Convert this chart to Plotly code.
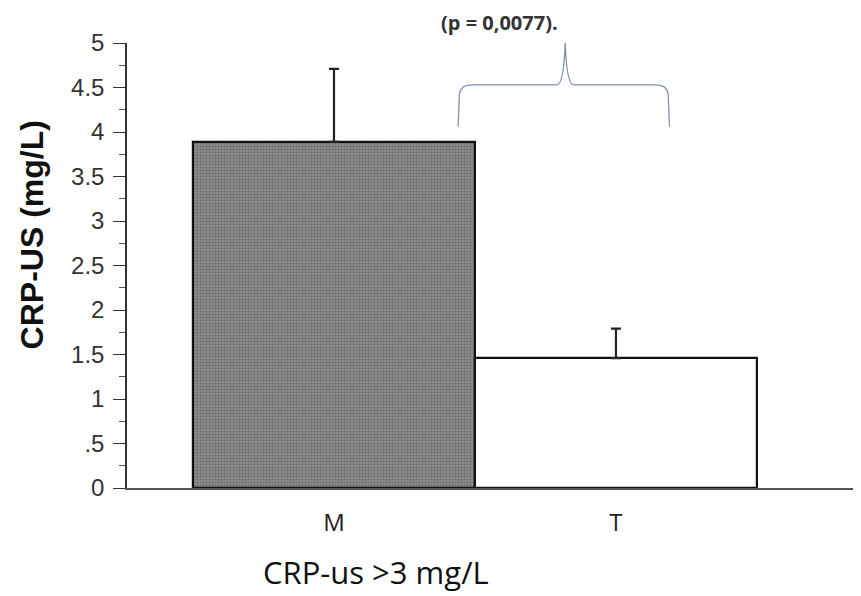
import plotly.graph_objects as go

categories = ["M", "T"]
values = [3.89, 1.46]
errors_up = [0.82, 0.33]
y_tickvals = [0, 0.5, 1, 1.5, 2, 2.5, 3, 3.5, 4, 4.5, 5]
y_ticktext = ["0", ".5", "1", "1.5", "2", "2.5", "3", "3.5", "4", "4.5", "5"]
p_label = "(p = 0,0077)."
x_title = "CRP-us >3 mg/L"
y_title = "CRP-US (mg/L)"

W, H = 861, 596
L, R, T, B = 119, 8, 35, 116

fig = go.Figure()
fig.add_trace(go.Bar(
    x=[0, 1], y=values, width=1.0,
    marker=dict(
        color=["#8c8c8c", "#ffffff"],
        line=dict(color="#111111", width=2.2),
        pattern=dict(shape=[".", ""], fgcolor="#333333", bgcolor="#8f8f8f", size=3, solidity=0.35),
    ),
    error_y=dict(type="data", symmetric=False, array=errors_up, arrayminus=[0, 0],
                 color="#222222", thickness=2.2, width=5),
    showlegend=False,
))

fig.update_layout(
    width=W, height=H,
    margin=dict(l=L, r=R, t=T, b=B),
    plot_bgcolor="white", paper_bgcolor="white",
    bargap=0,
    xaxis=dict(
        range=[-0.734, 1.869], tickvals=[0, 1], ticktext=categories,
        showgrid=False, zeroline=False, showline=True, linecolor="#555555", linewidth=1.5,
        ticks="", ticklabelstandoff=12,
        tickfont=dict(family="Open Sans, Liberation Sans, sans-serif", size=24, color="#222222"),
    ),
    yaxis=dict(
        range=[0, 5], tickvals=y_tickvals, ticktext=y_ticktext,
        showgrid=False, zeroline=False, showline=True, linecolor="#333333", linewidth=1.5,
        ticks="outside", ticklen=12, tickwidth=1.2, tickcolor="#333333", ticklabelstandoff=4,
        minor=dict(dtick=0.25, ticks="outside", ticklen=6, tickwidth=1.2, tickcolor="#555555"),
        tickfont=dict(family="Liberation Sans, Arial, sans-serif", size=24, color="#333333"),
    ),
)

# curly brace over the bars (data coords)
x0, x1, xm = 0.44, 1.19, 0.82
yb, yh, yt = 4.06, 4.53, 5.01
path = (f"M {x0} {yb} L {x0+0.005} {yh-0.1} Q {x0+0.01} {yh} {x0+0.05} {yh} "
        f"L {xm-0.03} {yh} Q {xm-0.005} {yh} {xm} {yt} "
        f"Q {xm+0.005} {yh} {xm+0.03} {yh} L {x1-0.05} {yh} "
        f"Q {x1-0.01} {yh} {x1-0.005} {yh-0.1} L {x1} {yb}")
fig.add_shape(type="path", path=path, xref="x", yref="y",
              line=dict(color="#7f93ad", width=1.3))

fig.add_annotation(x=0.508, y=1.045, xref="paper", yref="paper",
                   xanchor="center", yanchor="middle",
                   text=f"<b>{p_label}</b>", showarrow=False,
                   font=dict(family="Open Sans, Liberation Sans, sans-serif", size=20, color="#333333"))

fig.add_annotation(x=0.339, y=-0.189, xref="paper", yref="paper",
                   xanchor="center", yanchor="middle",
                   text=x_title, showarrow=False,
                   font=dict(family="Open Sans, Liberation Sans, sans-serif", size=31, color="#111111"))

fig.add_annotation(x=-0.130, y=0.569, xref="paper", yref="paper", textangle=-90,
                   xanchor="center", yanchor="middle",
                   text=f"<b>{y_title}</b>", showarrow=False,
                   font=dict(family="Liberation Sans, Arial, sans-serif", size=32, color="#111111"))

fig.write_html("out.html")
